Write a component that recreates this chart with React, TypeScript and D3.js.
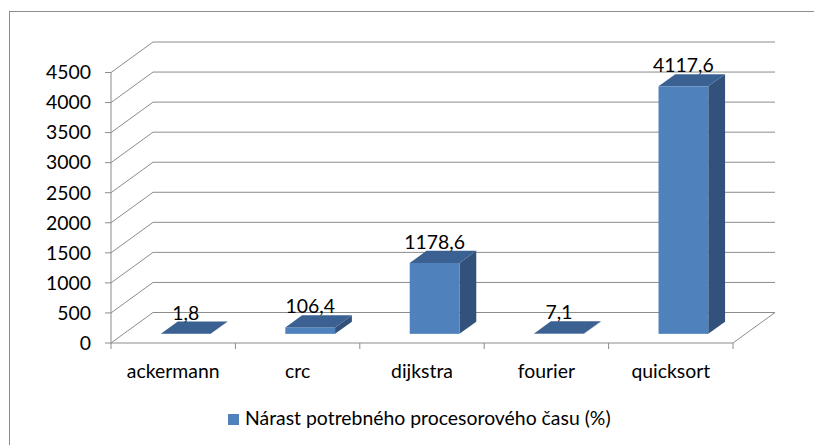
import React from "react";
import * as d3 from "d3";

const categories = ["ackermann", "crc", "dijkstra", "fourier", "quicksort"];
const values = [1.8, 106.4, 1178.6, 7.1, 4117.6];
const valueLabels = ["1,8", "106,4", "1178,6", "7,1", "4117,6"];
const yTicks = [0, 500, 1000, 1500, 2000, 2500, 3000, 3500, 4000, 4500];
const seriesName = "Nárast potrebného procesorového času (%)";

const W = 814;
const H = 445;
const FONT = "Lato, 'Open Sans', sans-serif";
const FS = 19.4;
const GRID = "#8c8c8c";
const FRONT = "#4F81BD";
const TOP = "#3B6193";
const SIDE = "#32527C";

// depth of the 3d box (screen offset from front to back wall)
const DX = 42;
const DY = -30.5;

export default function App() {
  const x = d3.scaleBand<string>().domain(categories).range([111, 733]).padding(0);
  const y = d3.scaleLinear().domain([0, 4500]).range([343, 72.5]);
  const bw = x.bandwidth() * 0.4;
  const y0 = y(0);
  const backX = x.range()[0] + DX;
  const backRight = x.range()[1] + DX;

  const bars = categories.map((c, i) => {
    const h = y0 - y(values[i]);
    const fx = (x(c) as number) + x.bandwidth() / 2 - bw / 2 + 0.3 * DX;
    const fy = y0 + 0.3 * DY; // front base
    const top = fy - h;
    const ddx = 0.4 * DX;
    const ddy = 0.4 * DY;
    return { c, i, fx, fy, top, ddx, ddy };
  });

  return (
    <svg
      width={W}
      height={H}
      style={{ position: "absolute", left: 0, top: 0, background: "#fff" }}
      fontFamily={FONT}
    >
      <rect x={9.5} y={11.5} width={W} height={H} fill="none" stroke={GRID} strokeWidth={1} />

      {/* walls gridlines */}
      {yTicks.map((t) => (
        <g key={t}>
          <line x1={111} y1={y(t)} x2={backX} y2={y(t) + DY} stroke={GRID} />
          <line x1={backX} y1={y(t) + DY} x2={backRight} y2={y(t) + DY} stroke={GRID} />
          <line x1={105} y1={y(t)} x2={111} y2={y(t)} stroke={GRID} />
          <text x={91} y={y(t)} dy="0.35em" textAnchor="end" fontSize={FS} fill="#000">
            {t}
          </text>
        </g>
      ))}
      <line x1={111} y1={y0} x2={111} y2={y(4500)} stroke={GRID} />
      {/* floor */}
      <line x1={111} y1={y0} x2={733} y2={y0} stroke={GRID} />
      <line x1={733} y1={y0} x2={733 + DX} y2={y0 + DY} stroke={GRID} />
      {categories.map((c) => (
        <line key={c} x1={x(c)} y1={y0} x2={x(c)} y2={y0 + 6} stroke={GRID} />
      ))}
      <line x1={733} y1={y0} x2={733} y2={y0 + 6} stroke={GRID} />

      {/* bars */}
      {bars.map((b) => (
        <g key={b.c}>
          <polygon
            points={`${b.fx + bw},${b.fy} ${b.fx + bw + b.ddx},${b.fy + b.ddy} ${b.fx + bw + b.ddx},${b.top + b.ddy} ${b.fx + bw},${b.top}`}
            fill={SIDE}
          />
          <rect x={b.fx} y={b.top} width={bw} height={b.fy - b.top} fill={FRONT} />
          <polygon
            points={`${b.fx},${b.top} ${b.fx + b.ddx},${b.top + b.ddy} ${b.fx + bw + b.ddx},${b.top + b.ddy} ${b.fx + bw},${b.top}`}
            fill={TOP}
          />
          <text
            x={b.fx + bw / 2}
            y={b.top + b.ddy - 2}
            textAnchor="middle"
            fontSize={FS}
            fill="#000"
          >
            {valueLabels[b.i]}
          </text>
        </g>
      ))}

      {/* category labels */}
      {categories.map((c) => (
        <text
          key={c}
          x={(x(c) as number) + x.bandwidth() / 2}
          y={378}
          textAnchor="middle"
          fontSize={FS}
          fill="#000"
        >
          {c}
        </text>
      ))}

      {/* legend */}
      <rect x={228} y={414} width={11} height={11} fill={FRONT} />
      <text x={245} y={424.5} fontSize={FS} fill="#000">
        {seriesName}
      </text>
    </svg>
  );
}
